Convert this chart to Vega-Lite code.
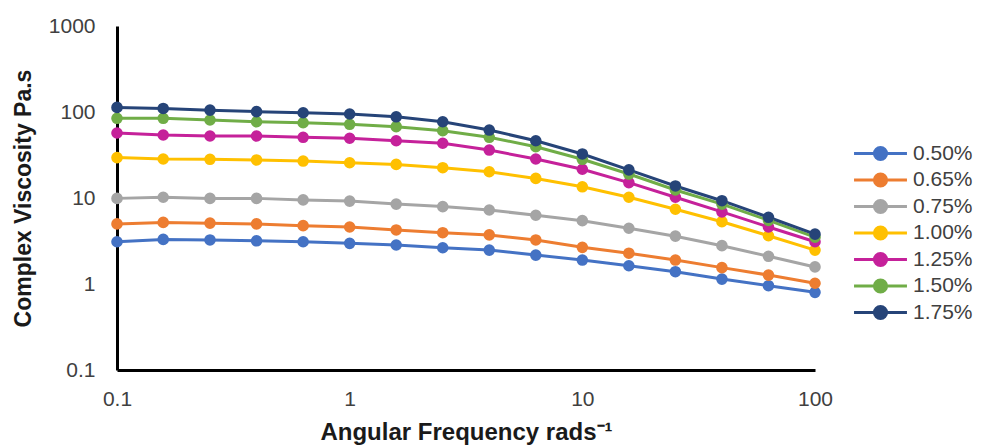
{
  "$schema": "https://vega.github.io/schema/vega-lite/v6.json",
  "width": 698,
  "height": 344,
  "autosize": {"type": "none"},
  "padding": {"left": 117, "top": 26, "right": 168, "bottom": 77},
  "background": "white",
  "data": {
    "values": [
      {"w":0.1,"s":"0.50%","v":3.1},{"w":0.158,"s":"0.50%","v":3.3},{"w":0.251,"s":"0.50%","v":3.25},{"w":0.398,"s":"0.50%","v":3.18},{"w":0.631,"s":"0.50%","v":3.1},{"w":1,"s":"0.50%","v":2.97},{"w":1.585,"s":"0.50%","v":2.84},{"w":2.512,"s":"0.50%","v":2.64},{"w":3.981,"s":"0.50%","v":2.48},{"w":6.31,"s":"0.50%","v":2.17},{"w":10,"s":"0.50%","v":1.9},{"w":15.85,"s":"0.50%","v":1.63},{"w":25.12,"s":"0.50%","v":1.39},{"w":39.81,"s":"0.50%","v":1.14},{"w":63.1,"s":"0.50%","v":0.955},{"w":100,"s":"0.50%","v":0.8},
      {"w":0.1,"s":"0.65%","v":5.0},{"w":0.158,"s":"0.65%","v":5.2},{"w":0.251,"s":"0.65%","v":5.1},{"w":0.398,"s":"0.65%","v":5.0},{"w":0.631,"s":"0.65%","v":4.77},{"w":1,"s":"0.65%","v":4.6},{"w":1.585,"s":"0.65%","v":4.25},{"w":2.512,"s":"0.65%","v":3.95},{"w":3.981,"s":"0.65%","v":3.72},{"w":6.31,"s":"0.65%","v":3.25},{"w":10,"s":"0.65%","v":2.67},{"w":15.85,"s":"0.65%","v":2.28},{"w":25.12,"s":"0.65%","v":1.9},{"w":39.81,"s":"0.65%","v":1.55},{"w":63.1,"s":"0.65%","v":1.27},{"w":100,"s":"0.65%","v":1.02},
      {"w":0.1,"s":"0.75%","v":9.9},{"w":0.158,"s":"0.75%","v":10.2},{"w":0.251,"s":"0.75%","v":9.9},{"w":0.398,"s":"0.75%","v":9.9},{"w":0.631,"s":"0.75%","v":9.5},{"w":1,"s":"0.75%","v":9.2},{"w":1.585,"s":"0.75%","v":8.5},{"w":2.512,"s":"0.75%","v":7.95},{"w":3.981,"s":"0.75%","v":7.25},{"w":6.31,"s":"0.75%","v":6.3},{"w":10,"s":"0.75%","v":5.45},{"w":15.85,"s":"0.75%","v":4.45},{"w":25.12,"s":"0.75%","v":3.6},{"w":39.81,"s":"0.75%","v":2.79},{"w":63.1,"s":"0.75%","v":2.1},{"w":100,"s":"0.75%","v":1.58},
      {"w":0.1,"s":"1.00%","v":29.5},{"w":0.158,"s":"1.00%","v":28.4},{"w":0.251,"s":"1.00%","v":28.2},{"w":0.398,"s":"1.00%","v":27.7},{"w":0.631,"s":"1.00%","v":26.9},{"w":1,"s":"1.00%","v":25.7},{"w":1.585,"s":"1.00%","v":24.6},{"w":2.512,"s":"1.00%","v":22.5},{"w":3.981,"s":"1.00%","v":20.2},{"w":6.31,"s":"1.00%","v":16.9},{"w":10,"s":"1.00%","v":13.5},{"w":15.85,"s":"1.00%","v":10.2},{"w":25.12,"s":"1.00%","v":7.4},{"w":39.81,"s":"1.00%","v":5.3},{"w":63.1,"s":"1.00%","v":3.64},{"w":100,"s":"1.00%","v":2.48},
      {"w":0.1,"s":"1.25%","v":57},{"w":0.158,"s":"1.25%","v":54},{"w":0.251,"s":"1.25%","v":52.6},{"w":0.398,"s":"1.25%","v":52.6},{"w":0.631,"s":"1.25%","v":50.8},{"w":1,"s":"1.25%","v":49.5},{"w":1.585,"s":"1.25%","v":46.3},{"w":2.512,"s":"1.25%","v":43.3},{"w":3.981,"s":"1.25%","v":36.1},{"w":6.31,"s":"1.25%","v":28.4},{"w":10,"s":"1.25%","v":21.6},{"w":15.85,"s":"1.25%","v":15.1},{"w":25.12,"s":"1.25%","v":10.2},{"w":39.81,"s":"1.25%","v":6.9},{"w":63.1,"s":"1.25%","v":4.6},{"w":100,"s":"1.25%","v":3.1},
      {"w":0.1,"s":"1.50%","v":84.5},{"w":0.158,"s":"1.50%","v":84.5},{"w":0.251,"s":"1.50%","v":80.7},{"w":0.398,"s":"1.50%","v":77},{"w":0.631,"s":"1.50%","v":75},{"w":1,"s":"1.50%","v":72},{"w":1.585,"s":"1.50%","v":67.5},{"w":2.512,"s":"1.50%","v":60.6},{"w":3.981,"s":"1.50%","v":50.8},{"w":6.31,"s":"1.50%","v":39.5},{"w":10,"s":"1.50%","v":28.2},{"w":15.85,"s":"1.50%","v":19},{"w":25.12,"s":"1.50%","v":12.4},{"w":39.81,"s":"1.50%","v":8.5},{"w":63.1,"s":"1.50%","v":5.5},{"w":100,"s":"1.50%","v":3.5},
      {"w":0.1,"s":"1.75%","v":113},{"w":0.158,"s":"1.75%","v":110},{"w":0.251,"s":"1.75%","v":105},{"w":0.398,"s":"1.75%","v":101},{"w":0.631,"s":"1.75%","v":98},{"w":1,"s":"1.75%","v":94.8},{"w":1.585,"s":"1.75%","v":88},{"w":2.512,"s":"1.75%","v":77},{"w":3.981,"s":"1.75%","v":61.7},{"w":6.31,"s":"1.75%","v":46.3},{"w":10,"s":"1.75%","v":32.5},{"w":15.85,"s":"1.75%","v":21.2},{"w":25.12,"s":"1.75%","v":13.8},{"w":39.81,"s":"1.75%","v":9.3},{"w":63.1,"s":"1.75%","v":5.97},{"w":100,"s":"1.75%","v":3.8}
    ]
  },
  "config": {
    "view": {"stroke": null},
    "axis": {
      "grid": false,
      "ticks": false,
      "domainColor": "#000000",
      "domainWidth": 3,
      "labelFont": "Liberation Sans",
      "labelFontSize": 21,
      "labelColor": "#404040",
      "labelFlush": false,
      "titleFont": "Liberation Sans",
      "titleFontSize": 23,
      "titleFontWeight": "bold",
      "titleColor": "#1a1a1a"
    }
  },
  "encoding": {
    "x": {
      "field": "w", "type": "quantitative",
      "scale": {"type": "log", "domain": [0.1, 100], "nice": false},
      "axis": {
        "values": [0.1, 1, 10, 100],
        "labelExpr": "datum.value < 1 ? '0.1' : format(datum.value, 'd')",
        "labelPadding": 18,
        "titlePadding": 11,
        "titleFontSize": 24,
        "title": "Angular Frequency rads⁻¹"
      }
    },
    "y": {
      "field": "v", "type": "quantitative",
      "scale": {"type": "log", "domain": [0.1, 1000], "nice": false},
      "axis": {
        "values": [0.1, 1, 10, 100, 1000],
        "labelExpr": "datum.value < 1 ? '0.1' : format(datum.value, 'd')",
        "labelPadding": 22,
        "titlePadding": 13,
        "title": "Complex Viscosity Pa.s"
      }
    },
    "color": {
      "field": "s", "type": "nominal",
      "scale": {
        "domain": ["0.50%", "0.65%", "0.75%", "1.00%", "1.25%", "1.50%", "1.75%"],
        "range": ["#4472C4", "#ED7D31", "#A5A5A5", "#FFC000", "#C5219A", "#70AD47", "#264478"]
      },
      "legend": {
        "title": null,
        "orient": "none",
        "legendX": 753,
        "legendY": 117,
        "symbolType": "M-4,0L4,0M-0.92,0A0.92,0.92 0 1,1 0.92,0A0.92,0.92 0 1,1 -0.92,0Z",
        "symbolSize": 175,
        "symbolStrokeWidth": 3,
        "symbolOpacity": 1,
        "labelFont": "Liberation Sans",
        "labelFontSize": 21,
        "labelColor": "#404040",
        "labelOffset": 22,
        "rowPadding": 1.5
      }
    }
  },
  "layer": [
    {
      "mark": {"type": "line", "strokeWidth": 3},
      "encoding": {"detail": {"field": "s"}}
    },
    {
      "mark": {"type": "point", "filled": true, "opacity": 1, "size": 135}
    }
  ]
}
